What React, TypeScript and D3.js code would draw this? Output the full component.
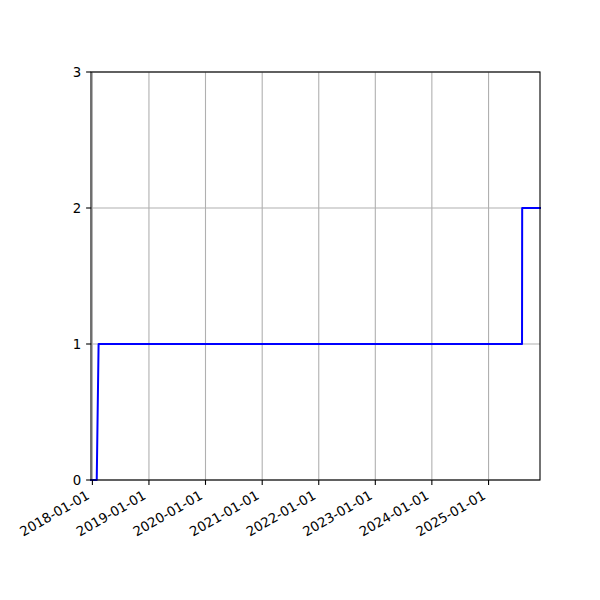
import React from "react";
import * as d3 from "d3";

const dates: string[] = ["2017-12-23", "2018-01-29", "2018-02-10", "2025-08-05", "2025-08-06", "2025-11-29"];
const counts: number[] = [0, 0, 1, 1, 2, 2];
const xTickLabels: string[] = ["2018-01-01", "2019-01-01", "2020-01-01", "2021-01-01", "2022-01-01", "2023-01-01", "2024-01-01", "2025-01-01"];
const yTicks: number[] = [0, 1, 2, 3];

export default function App() {
  const W = 600, H = 600;
  const left = 91, right = 540, top = 72, bottom = 480;
  const parse = d3.timeParse("%Y-%m-%d");
  const pts = dates.map((d, i) => ({ x: parse(d) as Date, y: counts[i] }));
  const x = d3.scaleTime().domain([pts[0].x, pts[pts.length - 1].x]).range([left, right]);
  const y = d3.scaleLinear().domain([0, 3]).range([bottom, top]);
  const line = d3.line<{ x: Date; y: number }>().x(d => x(d.x)).y(d => y(d.y));
  const font = "DejaVu Sans, sans-serif";
  return (
    <div style={{ position: "absolute", left: 0, top: 0 }}>
      <svg width={W} height={H} style={{ display: "block", background: "#fff" }}>
        <rect x={0} y={0} width={W} height={H} fill="#fff" />
        {xTickLabels.map(t => {
          const xv = x(parse(t) as Date);
          return <line key={"gx" + t} x1={xv} x2={xv} y1={top} y2={bottom} stroke="#b0b0b0" strokeWidth={1.1} />;
        })}
        {yTicks.map(t => (
          <line key={"gy" + t} x1={left} x2={right} y1={y(t)} y2={y(t)} stroke="#b0b0b0" strokeWidth={1.1} />
        ))}
        <path d={line(pts) || ""} fill="none" stroke="#0000ff" strokeWidth={2} strokeLinejoin="round" strokeLinecap="square" />
        <rect x={left} y={top} width={right - left} height={bottom - top} fill="none" stroke="#000" strokeWidth={1.1} />
        {xTickLabels.map(t => {
          const xv = x(parse(t) as Date);
          return (
            <g key={"tx" + t}>
              <line x1={xv} x2={xv} y1={bottom} y2={bottom + 4.9} stroke="#000" strokeWidth={1.1} />
              <text
                x={xv - 2}
                y={498}
                transform={`rotate(-30 ${xv - 2} 498)`}
                textAnchor="end"
                fontFamily={font}
                fontSize={13.33}
                fill="#000"
              >
                {t}
              </text>
            </g>
          );
        })}
        {yTicks.map(t => (
          <g key={"ty" + t}>
            <line x1={left - 4.9} x2={left} y1={y(t)} y2={y(t)} stroke="#000" strokeWidth={1.1} />
            <text x={left - 9.7} y={y(t)} dy="0.35em" textAnchor="end" fontFamily={font} fontSize={13.33} fill="#000">
              {t}
            </text>
          </g>
        ))}
      </svg>
    </div>
  );
}
